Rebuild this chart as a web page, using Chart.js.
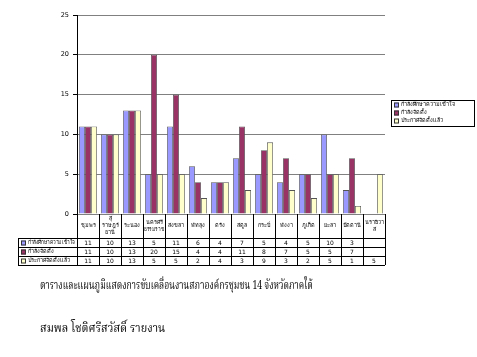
<!DOCTYPE html>
<html>
<head>
<meta charset="utf-8">
<script src="https://cdn.jsdelivr.net/npm/chart.js@4"></script>
<style>
html,body{margin:0;padding:0;background:#fff;}
#wrap{position:relative;width:477px;height:357px;}
canvas{position:absolute;left:0;top:0;}
.txt{position:absolute;font-family:"Noto Serif Thai","Noto Sans Thai","Tlwg Typo","Loma","Garuda","DejaVu Serif",serif;color:#000;white-space:nowrap;transform-origin:left center;}
#title{left:40px;top:276px;font-size:12px;transform:scaleX(0.72);}
#foot{left:40px;top:319px;font-size:12px;transform:scaleX(0.91);}
</style>
</head>
<body>
<div id="wrap">
<canvas id="c" width="477" height="357"></canvas>
<div class="txt" id="title">ตารางและแผนภูมิแสดงการขับเคลื่อนงานสภาองค์กรชุมชน 14 จังหวัดภาคใต้</div>
<div class="txt" id="foot">สมพล โชติศรีสวัสดิ์ รายงาน</div>
</div>
<script>
const categories = [["ชุมพร"],["สุ","ราษฎร์","ธานี"],["ระนอง"],["นครศรี","ธรรมราช"],["สงขลา"],["พัทลุง"],["ตรัง"],["สตูล"],["กระบี่"],["พังงา"],["ภูเก็ต"],["ยะลา"],["ปัตตานี"],["นราธิวา","ส"]];
const seriesNames = ["กำลังศึกษาความเข้าใจ","กำลังจัดตั้ง","ประกาศจัดตั้งแล้ว"];
const studying = [11,10,13,5,11,6,4,7,5,4,5,10,3,null];
const preparing = [11,10,13,20,15,4,4,11,8,7,5,5,7,null];
const established = [11,10,13,5,5,2,4,3,9,3,2,5,1,5];
const yTicks = [0,5,10,15,20,25];
const colors = ["#9999FF","#993366","#FFFFCC"];
const allSeries = [studying, preparing, established];

const FONT = '"DejaVu Sans","Noto Sans",sans-serif';

const tablePlugin = {
  id:'tablePlugin',
  afterDraw(chart){
    const ctx = chart.ctx;
    const xs = chart.scales.x;
    const ca = chart.chartArea;
    const n = categories.length;
    const step = (ca.right - ca.left)/n;
    const top = ca.bottom;
    const headBottom = top + 24;
    const rowH = 9;
    const tableLeft = 18;
    ctx.save();
    ctx.strokeStyle = '#000';
    ctx.lineWidth = 1;
    for(let i=0;i<=n;i++){
      const x = Math.round(ca.left + i*step)+0.5;
      ctx.beginPath(); ctx.moveTo(x, top); ctx.lineTo(x, headBottom + rowH*3); ctx.stroke();
    }
    for(let r=0;r<=3;r++){
      const y = Math.round(headBottom + r*rowH)+0.5;
      ctx.beginPath(); ctx.moveTo(tableLeft, y); ctx.lineTo(ca.right, y); ctx.stroke();
    }
    ctx.beginPath(); ctx.moveTo(tableLeft+0.5, headBottom); ctx.lineTo(tableLeft+0.5, headBottom+rowH*3); ctx.stroke();
    ctx.fillStyle = '#000';
    ctx.textAlign = 'center';
    ctx.textBaseline = 'middle';
    ctx.font = '5.5px ' + FONT;
    categories.forEach((lines,i)=>{
      const cx = xs.getPixelForValue(i);
      const lh = 7;
      const startY = top + 12 - (lines.length-1)*lh/2;
      lines.forEach((l,j)=>ctx.fillText(l, cx, startY + j*lh, step-2));
    });
    allSeries.forEach((arr,r)=>{
      const cy = headBottom + r*rowH + rowH/2 + 0.5;
      ctx.textAlign = 'center';
      ctx.font = '6px ' + FONT;
      ctx.fillStyle = '#000';
      arr.forEach((v,i)=>{
        if(v!==null) ctx.fillText(String(v), xs.getPixelForValue(i), cy);
      });
      ctx.fillStyle = colors[r];
      ctx.fillRect(tableLeft+3, cy-2.5, 5, 5);
      ctx.strokeStyle = '#333';
      ctx.strokeRect(tableLeft+3.5, cy-2, 4, 4);
      ctx.fillStyle = '#000';
      ctx.textAlign = 'left';
      ctx.font = '5.5px ' + FONT;
      ctx.fillText(seriesNames[r], tableLeft+10, cy, ca.left - tableLeft - 12);
      ctx.strokeStyle = '#000';
    });
    const lx = 391, ly = 100, lw = 83, lh = 26;
    ctx.fillStyle = '#fff';
    ctx.fillRect(lx, ly, lw, lh);
    ctx.strokeStyle = '#000';
    ctx.strokeRect(lx+0.5, ly+0.5, lw, lh);
    ctx.textAlign = 'left';
    ctx.font = '5.5px ' + FONT;
    seriesNames.forEach((s,r)=>{
      const cy = ly + 5 + r*8;
      ctx.fillStyle = colors[r];
      ctx.fillRect(lx+3, cy-2.5, 5, 5);
      ctx.strokeStyle = '#333';
      ctx.strokeRect(lx+3.5, cy-2, 4, 4);
      ctx.fillStyle = '#000';
      ctx.fillText(s, lx+10, cy, lw - 14);
    });
    ctx.restore();
  }
};

new Chart(document.getElementById('c'), {
  type:'bar',
  data:{
    labels: categories.map(c=>c.join('')),
    datasets: seriesNames.map((name,i)=>({
      label:name,
      data: allSeries[i],
      backgroundColor: colors[i],
      borderColor: '#555',
      borderWidth: 0.8,
      categoryPercentage: 0.82,
      barPercentage: 1.0
    }))
  },
  options:{
    responsive:false,
    animation:false,
    devicePixelRatio:1,
    layout:{padding:{left:52,right:92,top:15,bottom:143}},
    plugins:{legend:{display:false},tooltip:{enabled:false},title:{display:false}},
    scales:{
      x:{display:false, grid:{display:false}},
      y:{
        min:0,max:25,
        afterBuildTicks(s){ s.ticks = yTicks.map(v=>({value:v})); },
        afterFit(s){ s.width = 25; },
        border:{display:true,color:'#000',width:1},
        grid:{color:'#808080',lineWidth:1,tickLength:4,tickColor:'#000',drawTicks:true},
        ticks:{font:{size:6.5,family:FONT},color:'#000',padding:4}
      }
    }
  },
  plugins:[tablePlugin]
});
</script>
</body>
</html>
